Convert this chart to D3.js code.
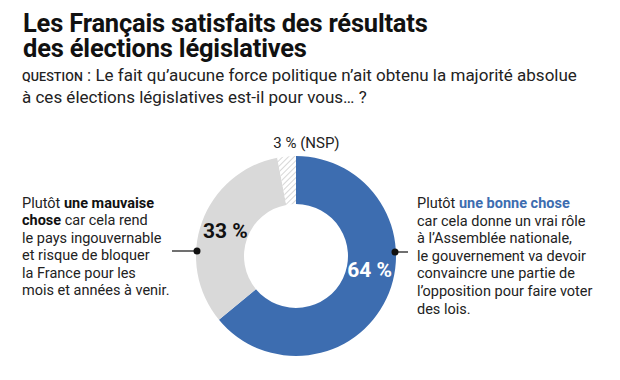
<!DOCTYPE html>
<html><head><meta charset="utf-8">
<script src="https://cdn.jsdelivr.net/npm/d3@7"></script>
<style>
body{margin:0;background:#fff;}
svg text{font-family:Roboto,"Noto Sans",sans-serif;}
</style></head>
<body>
<svg id="c" width="620" height="380"></svg>
<script>
const categories = ["Plutôt une bonne chose", "Plutôt une mauvaise chose", "NSP"];
const values = [64, 33, 3];
const valueLabels = ["64 %", "33 %", "3 % (NSP)"];
const colors = ["#3d6db0", "#d9d9d9", "url(#hatch)"];

const titleLines = ["Les Français satisfaits des résultats", "des élections législatives"];
const questionLabel = "QUESTION";
const questionLines = [" : Le fait qu’aucune force politique n’ait obtenu la majorité absolue", "à ces élections législatives est-il pour vous… ?"];

const leftText = [
  [["Plutôt ", false], ["une mauvaise", true]],
  [["chose", true], [" car cela rend", false]],
  [["le pays ingouvernable", false]],
  [["et risque de bloquer", false]],
  [["la France pour les", false]],
  [["mois et années à venir.", false]]
];
const rightText = [
  [["Plutôt ", false], ["une bonne chose", true]],
  [["car cela donne un vrai rôle", false]],
  [["à l’Assemblée nationale,", false]],
  [["le gouvernement va devoir", false]],
  [["convaincre une partie de", false]],
  [["l’opposition pour faire voter", false]],
  [["des lois.", false]]
];

const svg = d3.select("#c");
const defs = svg.append("defs");
const pat = defs.append("pattern").attr("id","hatch").attr("patternUnits","userSpaceOnUse")
  .attr("width",4).attr("height",4).attr("patternTransform","rotate(45)");
pat.append("rect").attr("width",4).attr("height",4).attr("fill","#fff");
pat.append("line").attr("x1",0).attr("y1",0).attr("x2",0).attr("y2",4).attr("stroke","#bdbdbd").attr("stroke-width",1.2);

// Title
svg.append("g").selectAll("text").data(titleLines).join("text")
  .attr("x",23).attr("y",(d,i)=>32+i*25)
  .attr("font-size",25.5).attr("font-weight",700).attr("fill","#111")
  .attr("letter-spacing","-0.2")
  .text(d=>d);

// Question
const q1 = svg.append("text").attr("x",22).attr("y",81).attr("font-size",17).attr("fill","#222");
q1.append("tspan").attr("font-size",12.5).attr("font-weight",500).attr("letter-spacing","0.1").text(questionLabel);
q1.append("tspan").text(questionLines[0]);
svg.append("text").attr("x",22).attr("y",103).attr("font-size",17).attr("fill","#222").text(questionLines[1]);

// Donut
const cx = 296, cy = 256, rOut = 100, rIn = 52;
const pie = d3.pie().sort(null).value(d=>d)(values);
const arc = d3.arc().innerRadius(rIn).outerRadius(rOut);
const g = svg.append("g").attr("transform",`translate(${cx},${cy})`);
g.selectAll("path").data(pie).join("path")
  .attr("d",arc).attr("fill",(d,i)=>colors[i]);

// value labels
const labArc = d3.arc().innerRadius(75).outerRadius(75);
const a64 = {startAngle: Math.PI*0.56, endAngle: Math.PI*0.56};
g.append("text").attr("transform",`translate(${labArc.centroid(a64)})`)
  .attr("text-anchor","middle").attr("dy","0.35em")
  .attr("font-size",21).attr("font-weight",700).attr("fill","#fff").text(valueLabels[0]);
g.append("text").attr("transform",`translate(${labArc.centroid(pie[1])})`)
  .attr("text-anchor","middle").attr("dy","0.35em")
  .attr("font-size",21).attr("font-weight",700).attr("fill","#111").text(valueLabels[1]);
// NSP label
const nspAng = (pie[2].startAngle+pie[2].endAngle)/2;
svg.append("text").attr("x",cx+(rOut+12)*Math.sin(nspAng)+21).attr("y",cy-(rOut+8)*Math.cos(nspAng))
  .attr("text-anchor","middle").attr("font-size",15).attr("fill","#222").text(valueLabels[2]);

// connectors
const conY = cy-4;
svg.append("line").attr("x1",cx+rOut-1).attr("x2",cx+rOut+12).attr("y1",conY).attr("y2",conY).attr("stroke","#111").attr("stroke-width",1.2);
svg.append("circle").attr("cx",cx+rOut-1).attr("cy",conY).attr("r",3.5).attr("fill","#111");
svg.append("line").attr("x1",cx-rOut+1).attr("x2",cx-rOut-24).attr("y1",conY-1).attr("y2",conY-1).attr("stroke","#111").attr("stroke-width",1.2);
svg.append("circle").attr("cx",cx-rOut+1).attr("cy",conY-1).attr("r",3.5).attr("fill","#111");

function block(lines,x,y0,lh,boldColor){
  const t = svg.append("g");
  lines.forEach((line,i)=>{
    const tx = t.append("text").attr("x",x).attr("y",y0+i*lh).attr("font-size",14.5).attr("fill","#222");
    line.forEach(([s,b])=>{
      const ts = tx.append("tspan").text(s);
      if(b){ts.attr("font-weight",700).attr("fill",boldColor);}
    });
  });
}
block(leftText,22,208,17.4,"#111");
block(rightText,417,208,17.6,"#3d6db0");
</script>
</body></html>
